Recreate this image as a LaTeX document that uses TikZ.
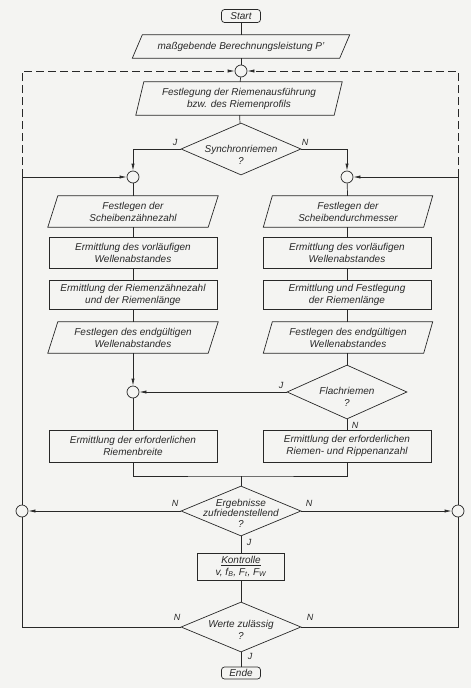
\documentclass[tikz,border=0pt]{standalone}
\usepackage{fontspec}
\setmainfont{Liberation Sans}
\usetikzlibrary{shapes.geometric,arrows.meta}
\definecolor{bgc}{RGB}{244,244,242}
\definecolor{ink}{RGB}{40,40,40}
\begin{document}
\begin{tikzpicture}[x=1pt,y=-1pt,
  every node/.style={font=\fontsize{10}{12}\selectfont\itshape, text=ink, align=center},
  ln/.style={draw=ink, line width=0.7pt},
  arr/.style={ln, -{Latex[length=7pt,width=3.2pt]}},
  dsh/.style={arr, dash pattern=on 8pt off 4pt},
  procbox/.style={draw=ink, line width=0.7pt, rectangle, minimum width=168pt, minimum height=#1, inner sep=1pt},
  parabody/.style={rectangle, minimum width=#1, inner sep=1pt},
  term/.style={draw=ink, line width=0.7pt, rectangle, rounded corners=3pt, minimum width=39pt, minimum height=13pt, inner sep=0pt},
  junc/.style={draw=ink, line width=0.7pt, circle, minimum size=12pt, inner sep=0pt},
  dia/.style={draw=ink, line width=0.7pt, diamond, minimum width=120pt, minimum height=#1, inner sep=0pt},
  lab/.style={font=\fontsize{9}{10}\selectfont\itshape, inner sep=0pt}
]
\fill[bgc] (0,0) rectangle (471,688);
\useasboundingbox (0,0) rectangle (471,688);

% top
\node[term] (start) at (241,16) {Start};
\node[parabody=207pt, minimum height=23pt] (p1) at (241,46.5) {maßgebende Berechnungsleistung P'};
\node[junc] (c0) at (241,71) {};
\node[parabody=198pt, minimum height=33pt] (p2) at (239,98.5) {Festlegung der Riemenausführung\\bzw. des Riemenprofils};
\node[dia=52pt] (d1) at (241,149) {};
\node (d1t) at (241,155) {Synchronriemen\\?};

% junction circles
\node[junc] (cl) at (133,177) {};
\node[junc] (cr) at (347,177) {};
\coordinate (tl) at (22,177);
\coordinate (tr) at (458,177);

% left column
\node[parabody=160pt, minimum height=31pt] (pl) at (133,211.5) {Festlegen der\\Scheibenzähnezahl};
\node[procbox=31pt] (bl1) at (133,252.5) {Ermittlung des vorläufigen\\Wellenabstandes};
\node[procbox=29pt] (bl2) at (133,294.5) {Ermittlung der Riemenzähnezahl\\und der Riemenlänge};
\node[parabody=160pt, minimum height=31pt] (pl2) at (133,337.5) {Festlegen des endgültigen\\Wellenabstandes};
\node[junc] (cl2) at (133,392) {};
\node[procbox=32pt] (bl3) at (133,446) {Ermittlung der erforderlichen\\Riemenbreite};

% right column
\node[parabody=160pt, minimum height=31pt] (pr) at (348,211.5) {Festlegen der\\Scheibendurchmesser};
\node[procbox=31pt] (br1) at (347,252.5) {Ermittlung des vorläufigen\\Wellenabstandes};
\node[procbox=29pt] (br2) at (347,294.5) {Ermittlung und Festlegung\\der Riemenlänge};
\node[parabody=160pt, minimum height=31pt] (pr2) at (348,337.5) {Festlegen des endgültigen\\Wellenabstandes};
\node[dia=54pt] (d2) at (347,392) {};
\node (d2t) at (347,397) {Flachriemen\\?};
\node[procbox=32pt] (br3) at (347,446) {Ermittlung der erforderlichen\\Riemen- und Rippenanzahl};

% bottom
\coordinate (m) at (241,476);
\node[dia=50pt] (d3) at (241,511) {};
\node[font=\fontsize{10}{10.5}\selectfont\itshape] (d3t) at (241,513) {Ergebnisse\\zufriedenstellend\\?};
\node[junc] (cL) at (22,511) {};
\node[junc] (cR) at (458,511) {};
\node[procbox=27pt, minimum width=87pt] (ktr) at (241,566.5) {\underline{Kontrolle}\\v, f\textsubscript{B}, F\textsubscript{t}, F\textsubscript{W}};
\node[dia=50pt] (d4) at (241,627) {};
\node (d4t) at (241,630) {Werte zulässig\\?};
\node[term, minimum height=12pt] (ende) at (241,673) {Ende};

% parallelograms
\foreach \n/\s in {p1/5, p2/4, pl/5, pl2/5, pr/4.5, pr2/4.5}{
  \draw[ln] ([xshift=-\s pt]\n.south west) -- ([xshift=\s pt]\n.north west)
            -- ([xshift=\s pt]\n.north east) -- ([xshift=-\s pt]\n.south east) -- cycle;
}

% labels
\node[lab] (j1) at (175,142) {J};
\node[lab] (n1) at (305,142) {N};
\node[lab] (j2) at (281,385) {J};
\node[lab] (n2) at (355,425) {N};
\node[lab] (n3) at (175,503) {N};
\node[lab] (n4) at (309,503) {N};
\node[lab] (j3) at (249,542) {J};
\node[lab] (n5) at (177,617) {N};
\node[lab] (n6) at (310,617) {N};
\node[lab] (j4) at (250,656) {J};

% connectors
\draw[ln] (start) -- (p1);
\draw[ln] (p1) -- (c0);
\draw[ln] (c0) -- (p2);
\draw[ln] (p2) -- (d1);
\draw[arr] (d1.west) -| (cl.north);
\draw[arr] (d1.east) -| (cr.north);
\draw[ln] (cl) -- (pl);
\draw[ln] (pl) -- (bl1);
\draw[ln] (bl1) -- (bl2);
\draw[ln] (bl2) -- (pl2);
\draw[arr] (pl2) -- (cl2);
\draw[ln] (cl2) -- (bl3);
\draw[ln] (cr) -- (pr);
\draw[ln] (pr.south -| cr) -- (br1);
\draw[ln] (br1) -- (br2);
\draw[ln] (br2) -- (pr2.north -| br2);
\draw[ln] (pr2.south -| d2) -- (d2);
\draw[arr] (d2.west) -- (cl2.east);
\draw[ln] (d2.south) -- (br3);
\draw[ln] (bl3.south) |- (m) -| (br3.south);
\draw[ln] (m) -- (d3);
\draw[arr] (d3.west) -- (cL);
\draw[arr] (d3.east) -- (cR);
\draw[ln] (d3) -- (ktr);
\draw[ln] (ktr) -- (d4);
\draw[ln] (d4) -- (ende);
\draw[ln] (d4.west) -| (cL.south);
\draw[ln] (d4.east) -| (cR.south);
\draw[arr] (cL.north) -- (tl) -- (cl.west);
\draw[arr] (cR.north) -- (tr) -- (cr.east);
\draw[dsh] (tl) |- (c0.west);
\draw[dsh] (tr) |- (c0.east);
\end{tikzpicture}
\end{document}
